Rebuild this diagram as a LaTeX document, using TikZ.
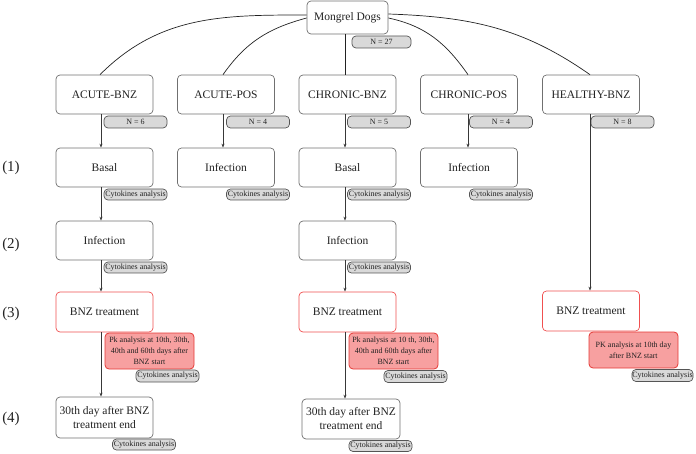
\documentclass[tikz,border=0pt]{standalone}
\usepackage{fontspec}
\setmainfont{Liberation Serif}
\usetikzlibrary{arrows.meta}
\definecolor{ink}{HTML}{222222}
\definecolor{boxline}{HTML}{707070}
\definecolor{redline}{HTML}{F05050}
\definecolor{pkfill}{HTML}{F7A0A0}
\definecolor{pkline}{HTML}{E53935}
\definecolor{tagfill}{HTML}{D9D9D9}
\definecolor{tagline}{HTML}{555555}
\tikzset{
  stagebox/.style={draw=boxline, line width=0.7pt, rounded corners=4pt, fill=white,
    minimum width=97pt, minimum height=39pt, inner sep=2pt, align=center,
    text=ink, font=\rmfamily\fontsize{11.5}{14}\selectfont},
  treatbox/.style={stagebox, draw=redline},
  tagbox/.style={draw=tagline, line width=0.7pt, fill=tagfill, rounded corners=4pt,
    minimum width=63pt, minimum height=11pt, inner sep=0pt, text=ink,
    font=\rmfamily\fontsize{8}{9}\selectfont},
  pkbox/.style={draw=pkline, line width=0.8pt, fill=pkfill, rounded corners=4pt,
    minimum width=89pt, minimum height=36pt, inner sep=1pt, align=center, text=ink,
    font=\rmfamily\fontsize{8}{11}\selectfont},
  rowlabel/.style={text=ink, font=\rmfamily\fontsize{15}{16}\selectfont},
  flow/.style={draw=ink!90, line width=0.7pt, -{Stealth[length=4pt,width=3pt]}},
  branch/.style={draw=ink, line width=0.7pt},
}
\begin{document}
\begin{tikzpicture}[x=1pt,y=1pt]
\useasboundingbox (0,0) rectangle (696,-454);

% root
\node[stagebox, minimum width=81pt, minimum height=33pt] (m) at (347.5,-17.5) {Mongrel Dogs};
\node[tagbox, minimum width=59pt, minimum height=12pt] (nm) at (381.5,-42) {N = 27};

% groups
\node[stagebox] (ab) at (104.5,-94.5) {ACUTE-BNZ};
\node[stagebox] (ap) at (226,-94.5) {ACUTE-POS};
\node[stagebox] (cb) at (347.5,-94.5) {CHRONIC-BNZ};
\node[stagebox] (cp) at (469,-94.5) {CHRONIC-POS};
\node[stagebox] (hb) at (591,-94.5) {HEALTHY-BNZ};

\node[tagbox, minimum height=12pt] (nab) at (135.5,-122) {N = 6};
\node[tagbox, minimum height=12pt] (nap) at (258,-122) {N = 4};
\node[tagbox, minimum height=12pt] (ncb) at (379,-122) {N = 5};
\node[tagbox, minimum height=12pt] (ncp) at (501,-122) {N = 4};
\node[tagbox, minimum height=12pt] (nhb) at (622.5,-122) {N = 8};

% stage (1)
\node[stagebox] (ab1) at (104.5,-167.5) {Basal};
\node[stagebox] (ap1) at (226,-167.5) {Infection};
\node[stagebox] (cb1) at (347.5,-167.5) {Basal};
\node[stagebox] (cp1) at (469,-167.5) {Infection};
\node[tagbox] (kab1) at (135.5,-194.5) {Cytokines analysis};
\node[tagbox] (kap1) at (258,-194.5) {Cytokines analysis};
\node[tagbox] (kcb1) at (379,-194.5) {Cytokines analysis};
\node[tagbox] (kcp1) at (501,-194.5) {Cytokines analysis};

% stage (2)
\node[stagebox] (ab2) at (104.5,-240.5) {Infection};
\node[stagebox] (cb2) at (347.5,-240.5) {Infection};
\node[tagbox] (kab2) at (135.5,-267.5) {Cytokines analysis};
\node[tagbox] (kcb2) at (379,-267.5) {Cytokines analysis};

% stage (3)
\node[treatbox, minimum height=40pt] (ab3) at (104.5,-312) {BNZ treatment};
\node[treatbox, minimum height=40pt] (cb3) at (347.5,-312) {BNZ treatment};
\node[treatbox, minimum height=40pt] (hb3) at (591,-311) {BNZ treatment};
\node[pkbox] (pab) at (149.5,-351) {Pk analysis at 10th, 30th,\\40th and 60th days after\\BNZ start};
\node[pkbox] (pcb) at (393.5,-351) {Pk analysis at 10 th, 30th,\\40th and 60th days after\\BNZ start};
\node[pkbox] (phb) at (633.5,-350) {PK analysis at 10th day\\after BNZ start};
\node[tagbox, minimum height=12pt] (kab3) at (167.5,-376) {Cytokines analysis};
\node[tagbox, minimum height=12pt] (kcb3) at (415.5,-376.5) {Cytokines analysis};
\node[tagbox, minimum height=12pt, minimum width=61pt] (khb3) at (662.5,-375.5) {Cytokines analysis};

% stage (4)
\node[stagebox, minimum height=41pt] (ab4) at (104.5,-417.5) {30th day after BNZ\\treatment end};
\node[stagebox, minimum height=40pt, minimum width=98pt] (cb4) at (351,-419) {30th day after BNZ\\treatment end};
\node[tagbox] (kab4) at (144,-444.5) {Cytokines analysis};
\node[tagbox] (kcb4) at (380.5,-446) {Cytokines analysis};

% row labels
\node[rowlabel] (r1) at (11,-168) {(1)};
\node[rowlabel] (r2) at (11,-245) {(2)};
\node[rowlabel] (r3) at (11,-314) {(3)};
\node[rowlabel] (r4) at (11,-419) {(4)};

% column lines
\coordinate (xa) at (101,0);
\coordinate (xp) at (223,0);
\coordinate (xc) at (345,0);
\coordinate (xq) at (468,0);
\coordinate (xh) at (590,0);

% branches from the root
\draw[branch] ([yshift=2.5pt]m.west) to[out=180,in=45] (ab.north -| 100,0);
\draw[branch] ([yshift=-0.5pt]m.west) to[out=195,in=55] (ap.north -| xp);
\draw[branch] (m.south -| xc) -- (cb.north -| xc);
\draw[branch] ([yshift=-0.5pt]m.east) to[out=-12,in=125] (cp.north -| xq);
\draw[branch] ([yshift=3.5pt]m.east) to[out=-2,in=145] (hb.north -| xh);

% stage arrows
\draw[flow] (ab.south -| xa) -- (ab1.north -| xa);
\draw[flow] (ab1.south -| xa) -- (ab2.north -| xa);
\draw[flow] (ab2.south -| xa) -- (ab3.north -| xa);
\draw[flow] (ab3.south -| xa) -- (ab4.north -| xa);
\draw[flow] (ap.south -| xp) -- (ap1.north -| xp);
\draw[flow] (cb.south -| xc) -- (cb1.north -| xc);
\draw[flow] (cb1.south -| xc) -- (cb2.north -| xc);
\draw[flow] (cb2.south -| xc) -- (cb3.north -| xc);
\draw[flow] (cb3.south -| xc) -- (cb4.north -| xc);
\draw[flow] (cp.south -| xq) -- (cp1.north -| xq);
\draw[flow] (hb.south -| xh) -- (hb3.north -| xh);
\end{tikzpicture}
\end{document}
